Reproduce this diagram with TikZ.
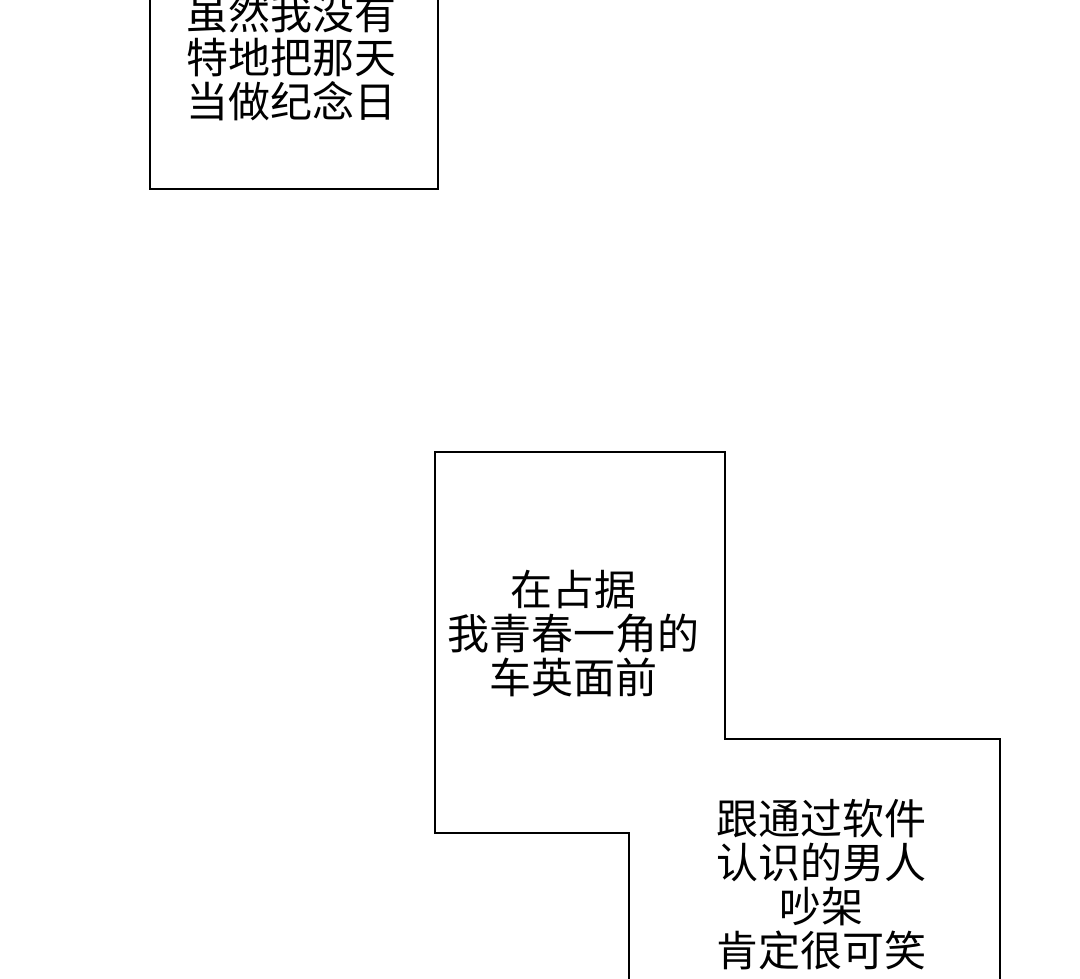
\documentclass[tikz,border=0pt]{standalone}
\usepackage{fontspec}
\setmainfont{Noto Sans CJK SC}
\begin{document}
\begin{tikzpicture}[x=1pt,y=-1pt,
    panel/.style={line width=2.4pt,line join=miter},
    caption/.style={align=center,inner sep=0pt,font=\fontsize{42}{44}\selectfont}]
    \useasboundingbox (0,0) rectangle (1080,979);

    \draw[panel] (150,-10) -- (150,189) -- (438,189) -- (438,-10);
    \draw[panel] (629,990) -- (629,833) -- (435,833) -- (435,452)
        -- (725,452) -- (725,739) -- (1000,739) -- (1000,990);

    \node[caption] (first) at (291,57) {虽然我没有\\特地把那天\\当做纪念日};
    \node[caption] (second) at (573,634) {在占据\\我青春一角的\\车英面前};
    \node[caption] (third) at (821,885) {跟通过软件\\认识的男人\\吵架\\肯定很可笑};
\end{tikzpicture}
\end{document}
